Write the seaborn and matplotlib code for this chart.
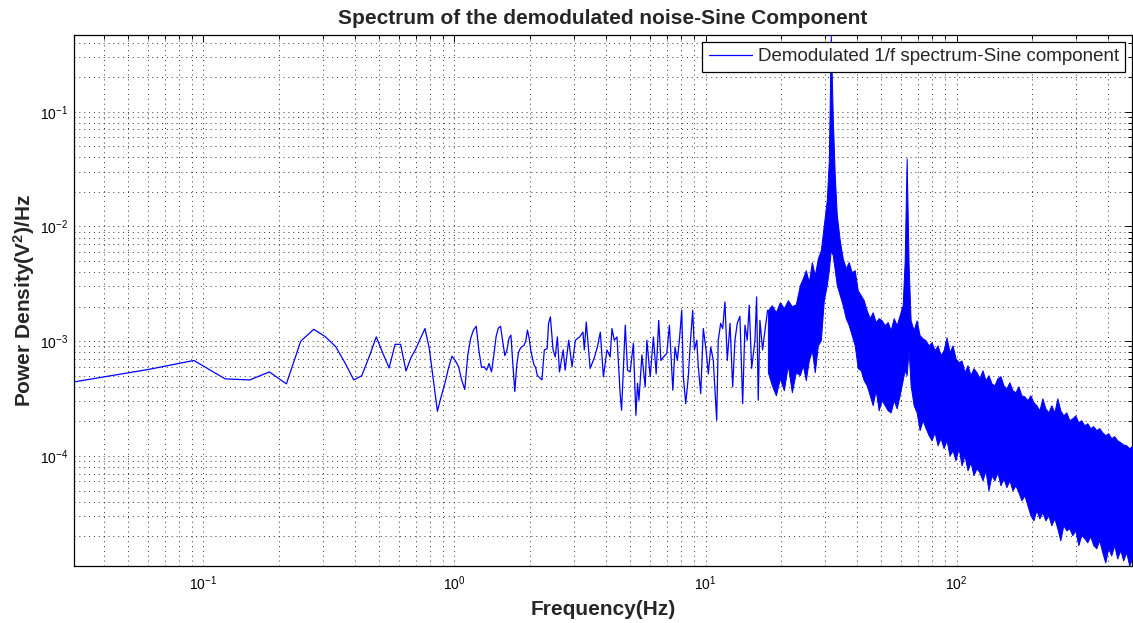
import numpy as np
import matplotlib
matplotlib.use("Agg")
import matplotlib.pyplot as plt
import seaborn as sns
import pandas as pd
from matplotlib.ticker import LogLocator, NullFormatter

# ---------------- data ----------------
TITLE = "Spectrum of the demodulated noise-Sine Component"
XLABEL = "Frequency(Hz)"
YLABEL = r"Power Density(V$^{\mathbf{2}}$)/Hz"
LEGEND_LABEL = "Demodulated 1/f spectrum-Sine component"

# resolved low/mid-frequency part of the spectrum (Hz, V^2/Hz)
freq_low = [0.0305, 0.061, 0.0916, 0.122, 0.153, 0.183, 0.214, 0.244, 0.275, 0.305,
            0.336, 0.366, 0.397, 0.427, 0.458, 0.488, 0.519, 0.549, 0.58, 0.61,
            0.641, 0.671, 0.702, 0.732, 0.763, 0.794, 0.824, 0.855, 0.885, 0.916,
            0.946, 0.977, 1.007, 1.038, 1.068, 1.099, 1.129, 1.16, 1.19, 1.221,
            1.251, 1.282, 1.312, 1.343, 1.373, 1.404, 1.434, 1.465, 1.495, 1.526,
            1.556, 1.587, 1.617, 1.648, 1.678, 1.709, 1.739, 1.77, 1.8, 1.831,
            1.861, 1.892, 1.922, 1.953, 1.984, 2.014, 2.045, 2.075, 2.106, 2.136]
psd_low = [4.42e-4, 5.7e-4, 6.8e-4, 4.7e-4, 4.6e-4, 5.4e-4, 4.25e-4, 1.0e-3, 1.27e-3, 1.1e-3,
           9.0e-4, 6.5e-4, 4.6e-4, 5.0e-4, 7.4e-4, 1.09e-3, 7.8e-4, 5.85e-4, 9.4e-4, 9.4e-4,
           5.5e-4, 7.2e-4, 8.6e-4, 1.06e-3, 1.29e-3, 8.6e-4, 4.6e-4, 2.45e-4, 3.3e-4, 4.3e-4,
           5.8e-4, 7.4e-4, 6.8e-4, 6.0e-4, 4.6e-4, 3.8e-4, 7.5e-4, 1.06e-3, 1.25e-3, 1.35e-3,
           8.3e-4, 5.9e-4, 6.0e-4, 5.6e-4, 6.4e-4, 5.4e-4, 7.5e-4, 1.1e-3, 1.3e-3, 1.35e-3,
           1.0e-3, 7.5e-4, 8.3e-4, 1.06e-3, 1.13e-3, 6.2e-4, 3.65e-4, 6.2e-4, 8.0e-4, 8.7e-4,
           9.0e-4, 9.2e-4, 1.0e-3, 1.25e-3, 1.06e-3, 8.3e-4, 7.1e-4, 6.2e-4, 5.9e-4, 5.05e-4]

freq_mid = [2.23, 2.28, 2.34, 2.37, 2.41, 2.47, 2.52, 2.57, 2.62, 2.71,
            2.76, 2.85, 2.94, 3.03, 3.15, 3.25, 3.29, 3.35, 3.47, 3.60,
            3.71, 3.81, 3.92, 4.05, 4.17, 4.24, 4.33, 4.44, 4.57, 4.63,
            4.71, 4.79, 4.89, 5.01, 5.16, 5.28, 5.36, 5.43, 5.58, 5.75,
            5.84, 6.02, 6.20, 6.36, 6.51, 6.64, 6.80, 7.01, 7.18, 7.41,
            7.56, 7.72, 7.87, 8.04, 8.16, 8.34, 8.54, 8.68, 8.89, 9.03,
            9.23, 9.36, 9.57, 9.80, 10.05, 10.26, 10.49, 10.74, 11.08, 11.24,
            11.49, 11.71, 11.95, 12.21, 12.52, 12.83, 13.10, 13.38, 13.71, 14.06,
            14.36, 14.66, 14.93, 15.27, 15.74, 15.98, 16.22, 16.47, 16.88, 17.29,
            17.67]
psd_mid = [4.6e-4, 8.4e-4, 8.6e-4, 1.43e-3, 1.63e-3, 8.4e-4, 7.3e-4, 1.09e-3, 5.4e-4, 8.4e-4,
           5.6e-4, 1.02e-3, 6.0e-4, 1.02e-3, 1.09e-3, 1.2e-3, 8.4e-4, 1.47e-3, 5.8e-4, 7.1e-4,
           8.9e-4, 1.2e-3, 4.9e-4, 8.4e-4, 7.3e-4, 1.29e-3, 1.02e-3, 1.09e-3, 3.5e-4, 2.5e-4,
           6.0e-4, 1.38e-3, 5.6e-4, 5.4e-4, 9.6e-4, 2.26e-4, 4.3e-4, 3.06e-4, 7.6e-4, 4.0e-4,
           1.02e-3, 4.9e-4, 1.09e-3, 5.2e-4, 1.52e-3, 6.8e-4, 7.3e-4, 7.8e-4, 1.38e-3, 3.74e-4,
           8.9e-4, 6.8e-4, 1.02e-3, 1.86e-3, 4.9e-4, 2.86e-4, 4.9e-4, 8.9e-4, 1.86e-3, 8.4e-4,
           1.02e-3, 6.0e-4, 3.5e-4, 1.29e-3, 8.4e-4, 5.2e-4, 8.9e-4, 6.8e-4, 2.05e-4, 1.02e-3,
           1.43e-3, 1.29e-3, 2.2e-3, 6.8e-4, 1.43e-3, 4.0e-4, 1.02e-3, 1.43e-3, 1.65e-3, 2.86e-4,
           1.38e-3, 1.02e-3, 2.06e-3, 5.8e-4, 1.02e-3, 2.43e-3, 3.06e-4, 1.52e-3, 8.4e-4, 1.29e-3,
           1.86e-3]

# dense high-frequency part: upper / lower envelope of the trace per column
band_freq = [17.72, 18.38, 19.07, 19.78, 20.52, 21.28, 22.08, 22.90, 23.76, 24.42,
             25.09, 25.79, 26.52, 27.25, 28.02, 28.80, 29.60, 30.42, 30.99, 31.55,
             32.14, 32.73, 33.34, 34.26, 35.21, 36.19, 37.20, 38.23, 39.30, 40.40,
             41.52, 42.68, 43.86, 45.10, 46.34, 47.63, 48.97, 50.33, 51.72, 53.16,
             54.66, 56.18, 57.74, 59.35, 61.0, 62.12, 63.27, 64.43, 65.63, 67.45,
             69.34, 71.27, 73.25, 75.29, 77.39, 79.54, 81.75, 84.04, 86.38, 88.79,
             91.25, 93.8, 96.4, 99.1, 101.9, 104.7, 107.6, 110.6, 113.7, 116.8,
             120.1, 123.4, 126.9, 130.4, 134.0, 137.8, 141.6, 145.5, 149.6, 153.8,
             158.0, 162.4, 167.0, 171.6, 176.4, 181.3, 186.4, 191.6, 196.9, 202.4,
             208.0, 213.8, 219.8, 225.9, 232.2, 238.6, 245.3, 252.1, 259.1, 266.3,
             273.8, 281.4, 289.2, 297.3, 305.6, 314.1, 322.8, 331.8, 341.0, 350.5,
             360.3, 370.3, 380.6, 391.2, 402.1, 413.3, 424.8, 436.7, 448.8, 461.3,
             474.2, 487.5, 500.0]
band_hi = [1.86e-3, 2.06e-3, 1.79e-3, 2.19e-3, 1.94e-3, 2.28e-3, 2.02e-3, 2.1e-3, 3.08e-3, 3.54e-3,
           4.16e-3, 3.27e-3, 4.89e-3, 3.76e-3, 5.29e-3, 6.21e-3, 1.03e-2, 1.70e-2, 3.79e-2, 0.466,
           8.79e-2, 2.8e-2, 1.26e-2, 7.6e-3, 5.29e-3, 4.33e-3, 4.89e-3, 4.0e-3, 4.16e-3, 2.78e-3,
           2.52e-3, 2.28e-3, 1.86e-3, 1.59e-3, 1.79e-3, 1.47e-3, 1.59e-3, 1.52e-3, 1.38e-3, 1.47e-3,
           1.25e-3, 1.59e-3, 1.38e-3, 1.69e-3, 2.06e-3, 4.89e-3, 3.94e-2, 4.6e-3, 1.52e-3, 1.25e-3,
           1.52e-3, 1.13e-3, 1.06e-3, 1.02e-3, 9.2e-4, 9.8e-4, 8.35e-4, 9.2e-4, 7.55e-4, 8.35e-4,
           1.08e-3, 8.0e-4, 9.2e-4, 7.1e-4, 6.56e-4, 6.8e-4, 5.37e-4, 6.18e-4, 5.06e-4, 5.82e-4,
           5.37e-4, 4.76e-4, 5.59e-4, 4.57e-4, 5.06e-4, 4.3e-4, 4.13e-4, 4.76e-4, 4.96e-4, 4.13e-4,
           3.89e-4, 4.39e-4, 3.74e-4, 3.59e-4, 4.05e-4, 3.38e-4, 3.31e-4, 3.06e-4, 3.38e-4, 2.94e-4,
           2.77e-4, 2.5e-4, 3.18e-4, 2.6e-4, 2.4e-4, 2.77e-4, 2.4e-4, 3.18e-4, 2.5e-4, 2.26e-4,
           2.4e-4, 2.05e-4, 2.13e-4, 2.26e-4, 1.97e-4, 2.05e-4, 1.85e-4, 1.93e-4, 1.75e-4, 1.82e-4,
           1.68e-4, 1.75e-4, 1.61e-4, 1.52e-4, 1.58e-4, 1.43e-4, 1.49e-4, 1.37e-4, 1.32e-4, 1.26e-4,
           1.24e-4, 1.17e-4, 1.22e-4]
band_lo = [5.37e-4, 4.13e-4, 3.38e-4, 4.76e-4, 3.74e-4, 6.18e-4, 3.59e-4, 5.37e-4, 5.06e-4, 6.18e-4,
           4.57e-4, 6.8e-4, 8.35e-4, 5.37e-4, 9.2e-4, 1.02e-3, 2.28e-3, 3.08e-3, 4.16e-3, 6.21e-3,
           5.62e-3, 4.16e-3, 3.08e-3, 2.52e-3, 2.06e-3, 1.59e-3, 1.38e-3, 1.13e-3, 9.2e-4, 5.82e-4,
           5.59e-4, 4.57e-4, 4.13e-4, 3.38e-4, 2.77e-4, 3.74e-4, 2.5e-4, 3.06e-4, 2.77e-4, 2.5e-4,
           2.4e-4, 3.06e-4, 2.6e-4, 3.38e-4, 4.57e-4, 5.59e-4, 5.06e-4, 8.35e-4, 4.13e-4, 2.77e-4,
           2.4e-4, 1.68e-4, 2.05e-4, 1.75e-4, 1.52e-4, 1.37e-4, 1.61e-4, 1.24e-4, 1.43e-4, 1.17e-4,
           1.37e-4, 1.01e-4, 1.12e-4, 9.18e-5, 1.17e-4, 8.3e-5, 1.01e-4, 7.5e-5, 8.82e-5, 6.79e-5,
           7.81e-5, 7.21e-5, 6.14e-5, 7.5e-5, 5.02e-5, 6.79e-5, 6.14e-5, 7.21e-5, 5.56e-5, 6.39e-5,
           5.34e-5, 6.14e-5, 5.02e-5, 5.56e-5, 4.83e-5, 4.11e-5, 4.54e-5, 3.72e-5, 3.04e-5, 2.75e-5,
           3.36e-5, 2.86e-5, 3.23e-5, 2.75e-5, 3.04e-5, 2.49e-5, 2.86e-5, 2.34e-5, 1.84e-5, 2.49e-5,
           2.25e-5, 2.34e-5, 2.04e-5, 2.25e-5, 1.67e-5, 2.04e-5, 1.92e-5, 1.77e-5, 2.0e-5, 1.67e-5,
           1.57e-5, 1.84e-5, 1.45e-5, 1.18e-5, 1.57e-5, 1.36e-5, 1.67e-5, 1.28e-5, 1.51e-5, 1.23e-5,
           1.45e-5, 1.11e-5, 1.28e-5]

X_LIMITS = (0.0305, 500.0)
Y_LIMITS = (1.1e-5, 0.466)

# ---------------- styling ----------------
sns.set_style("white")
plt.rcParams['font.family'] = ['Liberation Sans', 'DejaVu Sans']
plt.rcParams['mathtext.fontset'] = 'custom'
plt.rcParams['mathtext.rm'] = 'Liberation Sans'
plt.rcParams['mathtext.it'] = 'Liberation Sans:italic'
plt.rcParams['mathtext.bf'] = 'Liberation Sans:bold'
plt.rcParams['axes.unicode_minus'] = False

fig = plt.figure(figsize=(11.33, 6.23), dpi=100)
ax = fig.add_axes([74 / 1133, 1 - 566 / 623, (1132 - 74) / 1133, (566 - 35) / 623])
ax.set_xscale('log')
ax.set_yscale('log')

df = pd.DataFrame({'freq': freq_low + freq_mid, 'psd': psd_low + psd_mid})
sns.lineplot(data=df, x='freq', y='psd', ax=ax, color='blue', linewidth=0.9,
             sort=False, estimator=None, label=LEGEND_LABEL, zorder=3)
ax.fill_between(band_freq, band_lo, band_hi, facecolor='blue', edgecolor='blue',
                linewidth=0.7, zorder=3)

ax.set_xlim(*X_LIMITS)
ax.set_ylim(*Y_LIMITS)

ax.xaxis.set_major_locator(LogLocator(base=10, numticks=12))
ax.xaxis.set_minor_locator(LogLocator(base=10, subs=np.arange(2, 10), numticks=12))
ax.yaxis.set_major_locator(LogLocator(base=10, numticks=12))
ax.yaxis.set_minor_locator(LogLocator(base=10, subs=np.arange(2, 10), numticks=12))
ax.xaxis.set_minor_formatter(NullFormatter())
ax.yaxis.set_minor_formatter(NullFormatter())

ax.grid(True, which='both', linestyle=(0, (1, 4)), color='k', linewidth=0.7, alpha=0.8)
ax.set_axisbelow(True)
ax.tick_params(which='both', direction='in', top=True, right=True, colors='k',
               labelsize=10, width=0.7)
ax.tick_params(which='major', length=5, pad=4)
ax.tick_params(which='minor', length=3)
ax.tick_params(axis='x', which='major', pad=6)
for s in ax.spines.values():
    s.set_color('k')
    s.set_linewidth(0.9)

ax.set_title(TITLE, fontsize=15, fontweight='bold', pad=8)
ax.set_xlabel(XLABEL, fontsize=15, fontweight='bold', labelpad=5)
ax.set_ylabel(YLABEL, fontsize=15, fontweight='bold', labelpad=2)

leg = ax.legend(loc='upper right', fontsize=13.5, fancybox=False, framealpha=1,
                edgecolor='k', borderaxespad=0.35, handlelength=2.3,
                handletextpad=0.3, borderpad=0.35)
leg.get_frame().set_linewidth(0.9)
leg.set_zorder(10)

fig.savefig("out.png", dpi=100)
